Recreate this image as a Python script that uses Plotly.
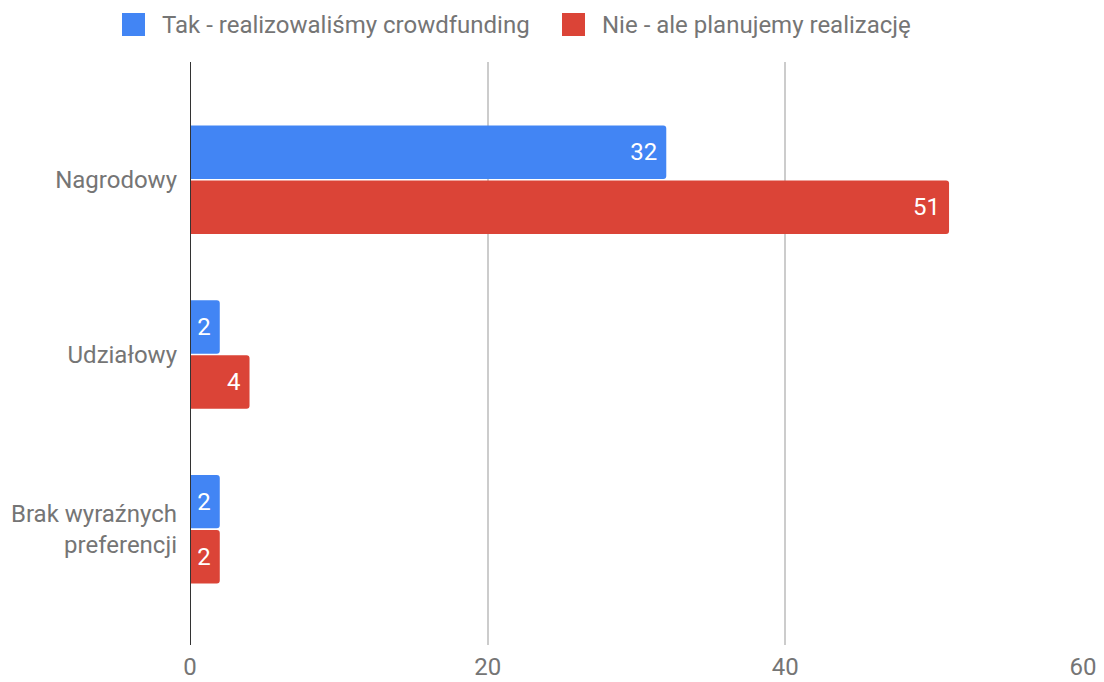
import plotly.graph_objects as go

categories = ["Nagrodowy", "Udziałowy", "Brak wyraźnych<br>preferencji"]
series_names = ["Tak - realizowaliśmy crowdfunding", "Nie - ale planujemy realizację"]
tak_values = [32, 2, 2]
nie_values = [51, 4, 2]
x_ticks = [0, 20, 40, 60]

colors = ["#4285F4", "#DB4437"]
text_grey = "#757575"
FS = 24

W, H = 1104, 682
ML, MR, MT, MB = 190, 21, 62, 37
PW, PH = W - ML - MR, H - MT - MB


def px_to_paper(px, py):
    """Convert a pixel position in the page to paper coordinates."""
    return (px - ML) / PW, 1 - (py - MT) / PH


fig = go.Figure()
for name, vals, col in zip(series_names, [tak_values, nie_values], colors):
    fig.add_trace(go.Bar(
        y=categories, x=vals, name=name, orientation="h",
        marker=dict(color=col, line=dict(width=0)),
        text=[f"{v}\u00a0" for v in vals], textposition="inside",
        insidetextanchor="end", textangle=0,
        textfont=dict(color="white", size=FS, family="Roboto"),
        showlegend=False,
    ))

# Legend drawn as swatches plus labels across the top
shapes = []
annotations = []
legend_items = [(122, 160), (562, 600)]
for (sx, tx), name, col in zip(legend_items, series_names, colors):
    x0, y0 = px_to_paper(sx, 13)
    x1, y1 = px_to_paper(sx + 23, 36)
    shapes.append(dict(type="rect", xref="paper", yref="paper", x0=x0, x1=x1, y0=y1, y1=y0,
                       fillcolor=col, line=dict(width=0), layer="above"))
    ax, ay = px_to_paper(tx, 25)
    annotations.append(dict(text=name, xref="paper", yref="paper", x=ax, y=ay,
                            xanchor="left", yanchor="middle", showarrow=False,
                            font=dict(size=FS, color=text_grey, family="Roboto")))

# Vertical baseline at zero
shapes.append(dict(type="line", xref="x", yref="paper", x0=0, x1=0, y0=0, y1=1,
                   line=dict(color="#333333", width=2)))

fig.update_layout(
    width=W, height=H,
    margin=dict(l=ML, r=MR, t=MT, b=MB),
    paper_bgcolor="white", plot_bgcolor="white",
    barmode="group", bargap=0.37, bargroupgap=0.03,
    barcornerradius=3,
    font=dict(family="Roboto", color=text_grey, size=FS),
    showlegend=False,
    xaxis=dict(range=[0, 60], tickvals=x_ticks, showgrid=True, gridcolor="#CCCCCC",
               gridwidth=1.5, zeroline=False, showline=False, ticks="",
               ticklabelstandoff=5,
               automargin=False, tickfont=dict(size=FS, color=text_grey)),
    yaxis=dict(range=[2.663, -0.674], showgrid=False, ticks="", ticklabelstandoff=12,
               automargin=False, tickfont=dict(size=FS, color=text_grey),
               showline=False, zeroline=False),
    shapes=shapes,
    annotations=annotations,
)

fig.write_html("out.html")
